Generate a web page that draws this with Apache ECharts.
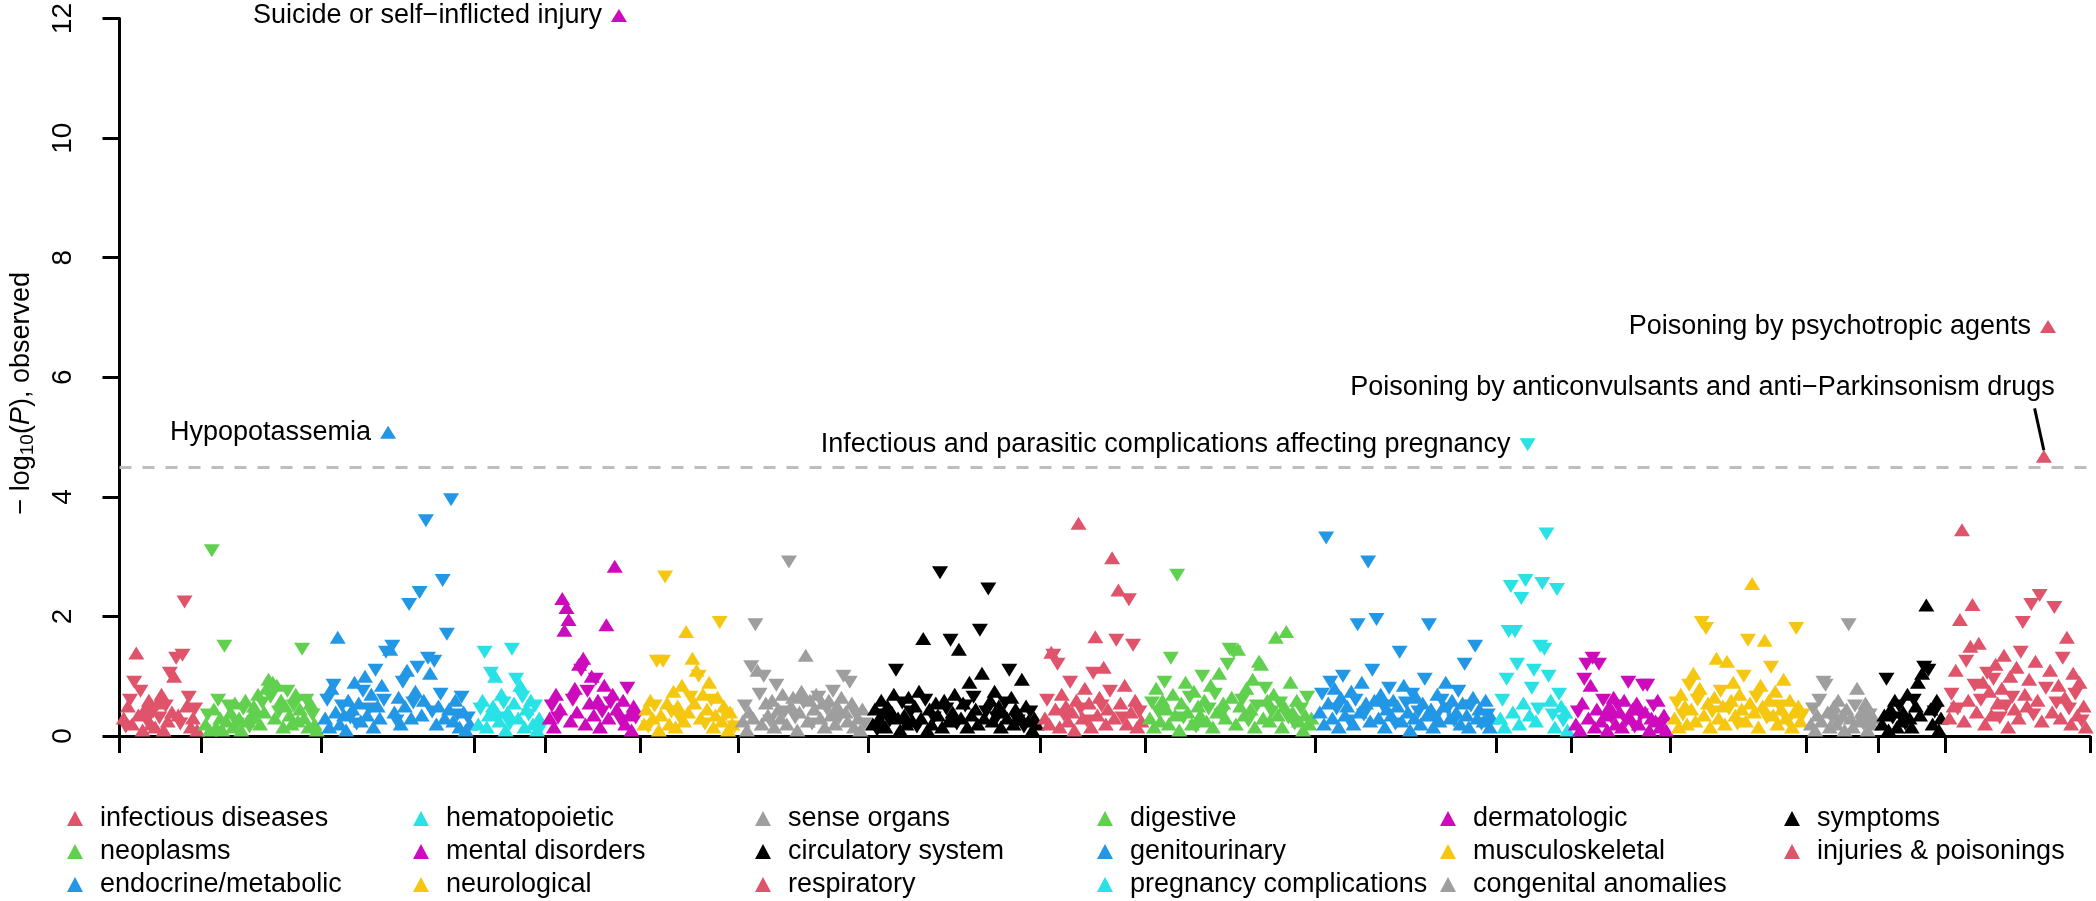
<!DOCTYPE html>
<html>
<head>
<meta charset="utf-8">
<script src="https://cdn.jsdelivr.net/npm/echarts@6/dist/echarts.min.js"></script>
<style>
html, body { margin: 0; padding: 0; background: #fff; }
#chart { width: 2096px; height: 901px; }
</style>
</head>
<body>
<div id="chart"></div>
<script>
// phenotype groups, in plotting order
var categories = [
  'infectious diseases', 'neoplasms', 'endocrine/metabolic',
  'hematopoietic', 'mental disorders', 'neurological',
  'sense organs', 'circulatory system', 'respiratory',
  'digestive', 'genitourinary', 'pregnancy complications',
  'dermatologic', 'musculoskeletal', 'congenital anomalies',
  'symptoms', 'injuries & poisonings'
];

// -log10(P) per phenotype; sign = direction of effect (+ up triangle, - down triangle)
var infectious = [0.3,-0.15,0.5,-0.6,0.2,-0.9,1.39,0.35,-0.75,0.1,0.45,-0.25,0.6,0.2,-0.4,0.15,0.55,-0.3,0.7,0.1,-0.5,0.25,-1.05,0.4,1.0,-1.3,0.35,-0.2,-1.35,-2.24,0.5,-0.65,0.15,0.3,-0.45,0.1];
var neoplasms = [0.2,-0.35,0.1,-3.1,0.45,0.15,-0.6,0.3,0.1,-1.5,0.25,-0.5,0.4,0.15,0.55,-0.2,0.3,0.1,-0.45,0.6,0.25,-0.15,0.35,0.5,-0.3,0.7,0.2,-0.55,0.4,0.8,0.95,-0.65,0.9,0.3,0.85,-0.4,0.6,0.15,0.5,-0.75,0.35,0.2,-0.5,0.7,0.25,0.45,-1.45,0.3,-0.6,0.15,0.55,-0.35,0.2,0.1];
var endocrine = [0.3,-0.6,0.15,0.8,-0.85,0.4,1.65,0.2,-0.5,0.35,0.1,0.6,-0.3,0.45,0.9,-0.2,0.55,0.25,-0.75,1.0,0.35,-0.45,0.7,0.15,-1.1,0.5,0.3,0.85,-0.6,-1.4,5.08,1.45,-1.5,0.4,-0.25,0.65,0.2,-0.9,0.5,1.1,-2.2,0.3,-0.55,0.75,-1.15,-2.4,0.35,0.6,-3.6,-1.3,1.05,-0.4,-1.25,0.2,0.5,-0.7,-2.6,0.3,-1.7,0.45,-3.95,0.25,0.6,-0.35,0.15,-0.65,0.4,0.1,-0.3,0.2];
var hematopoietic = [0.2,-0.45,0.6,-1.4,0.15,0.35,-1.05,0.5,1.0,-0.3,0.25,0.7,-0.55,0.1,0.4,-0.2,-1.45,0.55,-0.95,0.3,0.85,-0.65,0.15,0.45,-0.35,0.6,0.2,-0.5,0.1,0.3,-0.15];
var mental = [0.3,-0.5,0.15,0.7,-0.3,0.45,2.3,1.77,2.15,1.95,0.25,-0.6,0.8,0.4,1.2,-1.1,1.3,0.2,-0.75,0.55,1.0,0.35,-0.95,0.6,0.15,-0.4,0.85,1.86,0.3,-0.55,0.7,2.84,0.45,12.05,-0.25,0.6,0.2,-0.8,0.35,0.1,0.5,-0.3];
var neurological = [0.2,0.45,-0.15,0.6,0.3,-0.5,-1.25,0.1,0.35,-1.25,-2.66,0.55,0.2,-0.4,0.75,0.15,0.5,-0.3,0.85,0.25,1.75,0.4,-0.65,1.3,0.55,1.1,-1.0,0.3,0.7,-0.2,0.45,0.9,-0.6,0.15,0.35,0.65,-1.9,0.25,0.5,-0.35,0.1,0.4,0.2,-0.15];
var senseOrgans = [0.25,-0.5,0.1,0.4,-1.16,0.3,-1.86,1.1,-0.7,0.2,-1.0,0.55,0.35,-0.25,0.6,0.15,-0.85,0.45,0.3,0.7,-0.4,0.2,-2.91,0.5,0.65,-0.3,0.1,0.4,0.75,-0.55,1.35,0.25,0.6,-0.2,0.45,0.7,-0.65,0.3,0.55,0.15,-0.45,0.6,0.35,-0.75,0.2,0.5,-0.3,0.65,-1.0,0.4,0.25,-0.9,0.55,0.15,-0.35,0.3,0.1,0.45,-0.2];
var circulatory = [0.2,0.45,-0.1,0.3,0.6,-0.35,0.15,0.5,-0.25,0.4,0.7,-1.1,0.3,0.1,-0.55,0.35,0.2,0.65,-0.4,0.25,0.5,-0.15,0.75,0.3,1.63,-0.6,0.1,0.45,0.2,-0.3,0.55,0.35,-2.73,0.15,0.6,-0.45,0.25,-1.6,0.4,0.7,-0.2,1.45,0.3,0.55,-0.5,0.15,0.9,0.35,-0.65,0.45,0.2,-1.77,1.05,0.3,-0.4,-2.46,0.6,0.25,0.75,-0.3,0.5,0.15,0.4,-0.55,0.3,-1.1,0.65,0.2,0.45,-0.25,0.35,0.95,-0.15,0.5,0.25,-0.4,0.1,0.3,0.2];
var respiratory = [0.3,-0.6,0.2,1.4,-1.35,0.45,-1.2,0.15,0.7,-0.35,0.5,0.25,-0.9,0.4,0.1,0.6,3.56,-0.45,0.3,0.8,-0.25,0.55,0.15,-1.05,1.66,0.35,0.65,-0.5,1.15,0.2,0.45,-0.75,2.98,0.3,-1.6,2.44,0.55,-0.3,0.85,0.2,-2.28,0.4,-1.52,0.6,0.15,-0.4,0.25];
var digestive = [0.3,-0.55,0.15,0.8,-0.4,0.25,0.6,-0.9,0.45,0.2,-1.3,0.7,0.35,-2.69,0.1,0.55,-0.3,0.9,0.4,-0.65,0.2,0.75,-0.15,0.5,0.35,-1.0,0.6,0.25,-0.45,0.85,0.15,-0.7,0.4,1.05,-0.35,0.55,0.3,-1.2,-1.45,0.65,-1.4,0.2,1.45,0.5,-0.6,0.35,0.8,-0.25,0.45,0.95,0.15,-0.5,1.25,1.2,0.3,-0.8,0.6,0.25,-0.4,0.7,1.65,0.35,-0.55,0.15,0.5,1.75,-0.3,0.9,0.4,-0.2,0.6,0.25,-0.45,0.1,0.35,-0.65,0.2,0.3];
var genitourinary = [0.4,-0.7,0.2,-3.31,0.55,-0.9,0.3,0.8,-0.45,0.15,0.65,-1.0,0.35,0.5,-0.25,0.75,0.2,-0.6,-1.86,0.4,0.9,-0.35,0.55,-2.91,0.25,-1.1,0.6,-1.95,0.3,0.7,-0.5,0.15,0.45,-0.8,0.35,0.6,-0.2,0.5,-1.4,0.25,0.85,-0.55,0.4,0.1,-0.7,0.3,0.65,-0.4,0.2,0.55,-0.95,0.35,-1.86,0.45,0.15,-0.3,0.7,0.25,-0.6,0.5,0.9,-0.45,0.3,0.6,-0.25,0.4,-0.75,0.2,0.55,-1.2,0.35,0.15,-0.5,0.65,-1.5,0.3,0.45,-0.2,0.25,0.6,-0.35,0.15,0.3];
var pregnancy = [0.3,-0.6,0.15,-0.95,-1.75,-2.5,0.4,-1.75,-1.2,0.2,-2.3,0.55,-2.6,-4.87,0.35,-0.8,-1.1,0.25,-0.45,-1.5,-2.55,-1.45,-3.38,-1.0,0.6,-0.35,0.15,-2.45,-0.7,0.5,-0.25,0.4,0.1];
var dermatologic = [0.2,-0.4,0.1,0.55,-0.95,-1.2,0.3,0.85,-1.3,0.15,0.45,-1.2,0.25,-0.6,0.35,0.1,0.5,-0.3,0.65,0.2,-0.5,0.4,0.15,0.6,-0.25,-0.9,0.3,0.45,-0.15,0.55,0.2,-0.35,-0.85,0.4,-0.85,0.1,0.3,-0.5,0.25,0.6,0.15,-0.2,0.35,0.1];
var musculoskeletal = [0.3,-0.55,0.15,0.7,-0.35,0.5,0.2,-0.85,0.45,1.05,0.25,-0.6,0.8,-1.9,0.35,-1.8,0.55,0.15,-0.4,0.65,1.3,0.3,-0.75,0.5,0.2,1.25,-0.45,0.6,0.9,0.35,-0.2,0.7,0.45,-1.0,0.25,-1.6,0.55,2.55,0.4,-0.65,0.15,0.85,0.5,1.6,-0.3,0.6,-1.15,0.35,0.75,0.2,-0.5,0.45,0.95,0.3,-0.25,0.6,0.15,0.4,-1.8,0.5,0.25,-0.35];
var congenital = [0.2,-0.45,0.1,0.35,-0.6,0.25,-0.9,-0.85,0.4,0.15,-0.3,0.5,0.2,0.6,-0.25,0.35,0.1,0.45,-1.86,0.3,0.15,-0.5,0.8,0.25,0.4,-0.2,0.55,0.1,-0.35,0.2,0.3];
var symptoms = [0.2,0.35,-0.95,0.1,0.45,-0.3,0.6,0.15,-0.5,0.25,0.4,-0.2,0.7,0.3,0.15,-0.6,0.5,0.9,0.35,1.05,-1.15,2.19,-1.1,0.45,0.2,-0.4,0.6,0.1,0.3];
var injuries = [0.3,-0.7,0.5,1.1,-0.45,1.95,3.45,0.25,-1.25,0.6,1.5,2.2,-0.85,0.4,1.55,-0.6,0.9,0.2,-1.05,0.75,0.35,-0.95,1.2,0.55,-0.3,0.8,1.35,-0.5,0.15,1.0,-0.65,0.45,1.15,0.3,-1.4,-1.9,0.7,0.5,0.95,-2.2,-0.35,1.25,0.6,-2.35,0.25,4.68,-0.8,6.85,1.1,0.4,-2.15,-0.55,0.85,0.3,-1.3,0.65,1.65,-0.45,0.2,1.05,-0.7,0.35,0.9,-0.25,0.5,0.15];

var values = [infectious, neoplasms, endocrine, hematopoietic, mental, neurological,
  senseOrgans, circulatory, respiratory, digestive, genitourinary, pregnancy,
  dermatologic, musculoskeletal, congenital, symptoms, injuries];

// labelled hits: group index, index inside group, text
var hitGroup = [4, 2, 11, 16, 16];
var hitIndex = [33, 30, 13, 47, 45];
var hitText = [
  'Suicide or self\u2212inflicted injury',
  'Hypopotassemia',
  'Infectious and parasitic complications affecting pregnancy',
  'Poisoning by psychotropic agents',
  'Poisoning by anticonvulsants and anti\u2212Parkinsonism drugs'
];

var threshold = 4.5;

// R default palette (R >= 4.0), cycled from the 2nd colour
var rPalette = ['#DF536B', '#61D04F', '#2297E6', '#28E2E5', '#CD0BBC', '#F5C710', '#9E9E9E', '#000000'];

var FONT = '"Liberation Sans", Arial, Helvetica, sans-serif';
var PAD = 1.5;

var starts = [], pos = 0;
values.forEach(function (v) {
  starts.push(pos);
  pos += v.length + 2 * PAD;
});
var bounds = starts.concat([pos]);

function xOf(i, j) { return starts[i] + PAD + j + 0.5; }

var series = values.map(function (vals, i) {
  var s = {
    type: 'scatter',
    name: categories[i],
    symbol: 'triangle',
    symbolSize: [16, 13],
    clip: false,
    itemStyle: { color: rPalette[i % rPalette.length], opacity: 1 },
    emphasis: { disabled: true },
    data: vals.map(function (v, j) {
      var item = {
        value: [xOf(i, j), Math.abs(v)],
        symbolRotate: v < 0 ? 180 : 0
      };
      for (var k = 0; k < hitGroup.length; k++) {
        if (hitGroup[k] === i && hitIndex[k] === j) {
          item.label = {
            show: true, position: 'left', distance: 9,
            formatter: hitText[k], fontSize: 27, color: '#000', fontFamily: FONT
          };
        }
      }
      return item;
    })
  };
  if (i === 16) {
    // the last hit has its label lifted above it, with a leader line
    s.labelLayout = function (p) {
      return p.dataIndex === hitIndex[4] ? { dx: 28, dy: -69 } : {};
    };
    var hx = xOf(16, hitIndex[4]), hy = Math.abs(injuries[hitIndex[4]]);
    s.markLine = {
      silent: true, symbol: 'none', animation: false,
      label: { show: false },
      lineStyle: { color: '#000', type: 'solid', width: 3 },
      data: [[{ coord: [hx - 4.4, hy + 0.8] }, { coord: [hx, hy + 0.1] }]]
    };
  }
  if (i === 0) {
    s.markLine = {
      silent: true, symbol: 'none', animation: false,
      label: { show: false },
      lineStyle: { color: '#BEBEBE', type: [12, 11], width: 3 },
      data: [{ yAxis: threshold }]
    };
  }
  return s;
});

var legendLeft = [67, 413, 755, 1097, 1440, 1784];
var legends = legendLeft.map(function (x, c) {
  return {
    data: categories.slice(c * 3, c * 3 + 3),
    orient: 'vertical', left: x, top: 805, padding: 0,
    icon: 'triangle', itemWidth: 16, itemHeight: 15, itemGap: 6,
    selectedMode: false,
    textStyle: { fontSize: 27, color: '#000', fontFamily: FONT, lineHeight: 27, padding: [0, 0, 0, 12] }
  };
});

var chart = echarts.init(document.getElementById('chart'));
chart.setOption({
  animation: false,
  backgroundColor: '#fff',
  textStyle: { fontFamily: FONT },
  grid: { left: 117, right: 6, top: 17, bottom: 165 },
  legend: legends,
  xAxis: {
    type: 'value', min: 0, max: pos, offset: 14,
    splitLine: { show: false },
    axisLine: { show: true, lineStyle: { color: '#000', width: 3 } },
    axisTick: { show: true, customValues: bounds, length: 17, lineStyle: { color: '#000', width: 3 } },
    axisLabel: { show: false }
  },
  yAxis: {
    type: 'value', min: 0, max: 12, interval: 2,
    splitLine: { show: false },
    axisLine: { show: true, lineStyle: { color: '#000', width: 3 } },
    axisTick: { show: true, length: 17, lineStyle: { color: '#000', width: 3 } },
    axisLabel: { rotate: 90, fontSize: 28, color: '#000', margin: 42, fontFamily: FONT },
    name: '{a|\u2212 log}{s|10}{a|(}{i|P}{a|), observed}',
    nameLocation: 'middle', nameRotate: 90, nameGap: 82,
    nameTextStyle: {
      padding: [0, 32, 0, 0],
      rich: {
        a: { fontSize: 27, color: '#000', fontFamily: FONT, lineHeight: 32 },
        s: { fontSize: 19, color: '#000', fontFamily: FONT, lineHeight: 19, verticalAlign: 'bottom' },
        i: { fontSize: 27, color: '#000', fontFamily: FONT, fontStyle: 'italic', lineHeight: 32 }
      }
    }
  },
  series: series
});
</script>
</body>
</html>
